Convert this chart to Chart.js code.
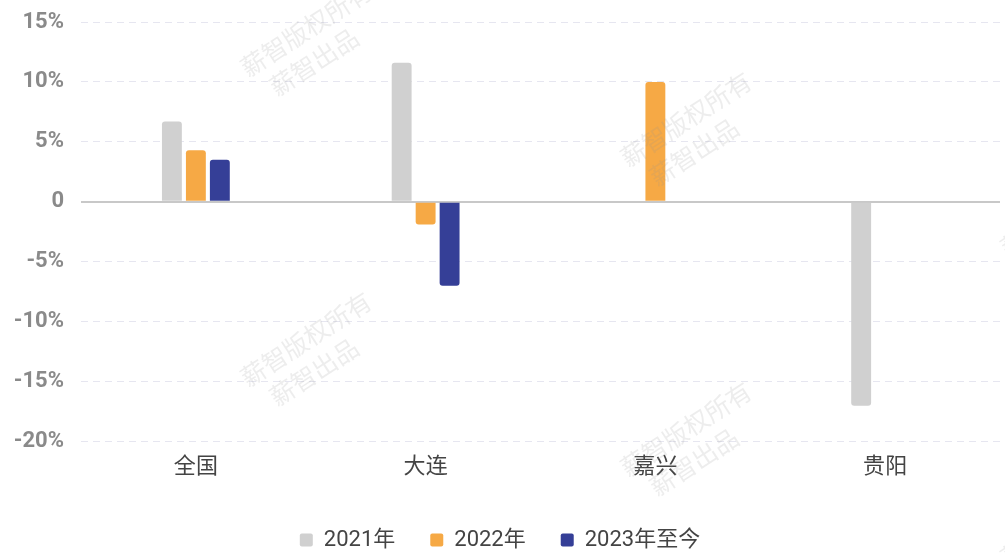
<!DOCTYPE html>
<html>
<head>
<meta charset="utf-8">
<script src="https://cdn.jsdelivr.net/npm/chart.js@4/dist/chart.umd.min.js"></script>
<style>
  html, body { margin: 0; padding: 0; background: #fff; }
  #wrap { width: 1005px; height: 553px; position: relative; }
</style>
</head>
<body>
<div id="wrap"><canvas id="chart"></canvas></div>
<script>
// Data
const cities = ['全国', '大连', '嘉兴', '贵阳'];
const growth2021 = [6.7, 11.6, null, -17.0];
const growth2022 = [4.3, -1.9, 10.0, null];
const growth2023 = [3.5, -7.0, null, null];
const seriesNames = ['2021年', '2022年', '2023年至今'];
const yTicks = [-20, -15, -10, -5, 0, 5, 10, 15];

const FONT = 'Roboto, "Noto Sans CJK SC", sans-serif';
const watermarkLine1 = '薪智版权所有';
const watermarkLine2 = '薪智出品';

// faint repeated watermark, drawn over everything like the original
const watermark = {
    id: 'watermark',
    afterDraw(chart) {
        const ctx = chart.ctx;
        ctx.save();
        ctx.font = '25px "Noto Sans CJK SC", sans-serif';
        ctx.fillStyle = 'rgba(150,150,150,0.17)';
        for (let k = 0; k < 4; k++) {
            for (let j = -1; j < 3; j++) {
                const x = -137 + 380 * k;
                const y = -20 + 90 * k + 310 * j;
                ctx.save();
                ctx.translate(x, y);
                ctx.rotate(-33 * Math.PI / 180);
                ctx.fillText(watermarkLine1, 0, 0);
                ctx.fillText(watermarkLine2, 14, 32);
                ctx.restore();
            }
        }
        ctx.restore();
    }
};

const barStyle = { borderRadius: 3, borderSkipped: 'start', categoryPercentage: 0.313, barPercentage: 0.83 };

new Chart(document.getElementById('chart'), {
    type: 'bar',
    data: {
        labels: cities,
        datasets: [
            { label: seriesNames[0], data: growth2021, backgroundColor: '#d0d0d0', ...barStyle },
            { label: seriesNames[1], data: growth2022, backgroundColor: '#f6a945', ...barStyle },
            { label: seriesNames[2], data: growth2023, backgroundColor: '#353f97', ...barStyle }
        ]
    },
    options: {
        responsive: true,
        maintainAspectRatio: false,
        animation: false,
        layout: { padding: { top: 22, right: 5, bottom: -8, left: 0 } },
        plugins: {
            tooltip: { enabled: false },
            legend: {
                position: 'bottom',
                labels: {
                    color: '#444',
                    font: { family: FONT, size: 22 },
                    boxWidth: 13,
                    boxHeight: 13,
                    useBorderRadius: true,
                    borderRadius: 2,
                    padding: 35
                }
            }
        },
        scales: {
            x: {
                grid: { display: false, drawTicks: false },
                border: { display: false },
                ticks: { color: '#444', font: { family: FONT, size: 22 }, padding: 13 }
            },
            y: {
                min: yTicks[0],
                max: yTicks[yTicks.length - 1],
                afterBuildTicks(scale) { scale.ticks = yTicks.map(v => ({ value: v })); },
                afterFit(scale) { scale.width = 81; scale.paddingTop = 0; },
                grid: {
                    drawTicks: false,
                    color: ctx => ctx.tick && ctx.tick.value === 0 ? '#c8c8c8' : '#e6e6f0',
                    lineWidth: ctx => ctx.tick && ctx.tick.value === 0 ? 2 : 1
                },
                border: {
                    display: false,
                    dash: ctx => ctx.tick && ctx.tick.value === 0 ? [] : [7, 5]
                },
                ticks: {
                    color: '#8a8a8a',
                    padding: 17,
                    font: { family: FONT, size: 22, weight: 'bold' },
                    callback: v => v === 0 ? '0' : v + '%'
                }
            }
        }
    },
    plugins: [watermark]
});
</script>
</body>
</html>
